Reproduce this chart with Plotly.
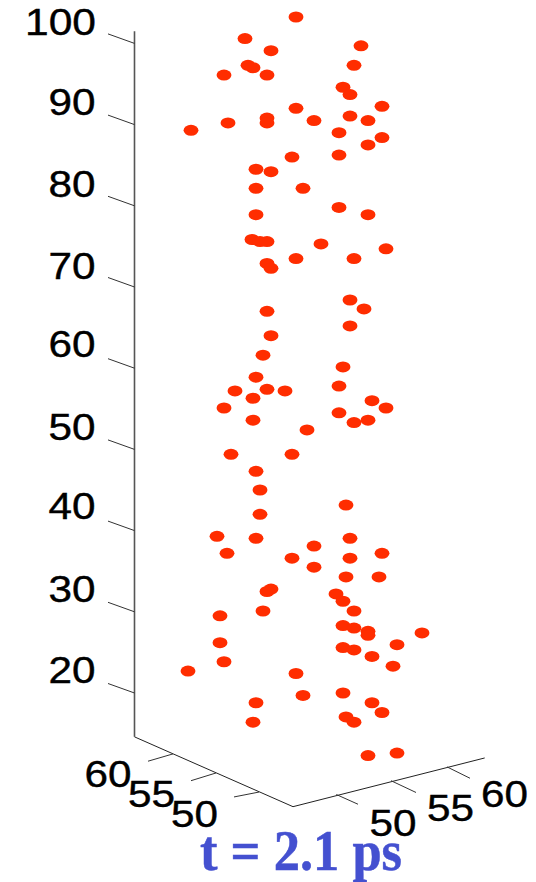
import plotly.graph_objects as go

# Scatter points: projected horizontal position and height (z value)
proj_u = [296,245,361,271,354,248,253,224,267,343,350,382,296,350,267,314,368,267,228,191,339,382,368,339,292,
          256,271,256,303,339,256,368,252,260,267,321,386,296,354,267,271,350,364,267,350,271,263,343,256,339,
          267,285,235,253,372,224,386,339,253,368,354,307,231,292,256,260,346,260,217,256,350,314,227,382,292,350,
          314,346,379,271,267,336,343,354,220,263,343,354,368,422,368,220,397,343,354,372,224,393,188,296,
          343,303,372,382,346,354,253,256,368,397]
z_val = [103.25,100.6,99.7,99.1,97.3,97.3,97.0,96.1,96.1,94.6,93.7,92.25,92.0,91.05,90.8,90.5,90.5,90.2,90.2,89.3,89.0,88.4,87.5,86.25,86.0,
         84.5,84.2,82.15,82.15,79.8,78.9,78.9,75.85,75.6,75.6,75.3,74.7,73.5,73.5,72.9,72.3,68.4,67.3,67.0,65.2,64.0,61.6,60.15,58.9,57.8,
         57.4,57.2,57.2,56.3,56.0,55.1,55.1,54.5,53.6,53.6,53.3,52.4,49.4,49.4,47.3,45.0,43.15,42.0,39.3,39.05,39.05,38.1,37.2,37.2,36.6,36.6,
         35.5,34.3,34.3,32.8,32.5,32.2,31.3,30.1,29.5,30.1,28.3,28.0,27.6,27.4,27.1,26.2,25.95,25.6,25.3,24.5,23.85,23.3,22.7,22.4,
         20.0,19.7,18.8,17.6,17.05,16.4,16.4,18.8,12.3,12.6]

# Axis tick labels
z_ticks = [100, 90, 80, 70, 60, 50, 40, 30, 20]
left_floor_labels = ["60", "55", "50"]
right_floor_labels = ["50", "55", "60"]
title_text = "t = 2.1 ps"

AXIS_U = 134.5
TICK_DU, TICK_DZ = -26.5, 1.17

fig = go.Figure()

# Frame
fig.add_trace(go.Scatter(x=[AXIS_U, AXIS_U], y=[101.5, 14.6], mode="lines", line=dict(color="#555555", width=1.6)))
fig.add_trace(go.Scatter(x=[AXIS_U, 293, 484.7], y=[14.6, 6.0, 12.0], mode="lines", line=dict(color="#222222", width=1)))

# z ticks
tx, ty = [], []
for t in z_ticks:
    tx += [AXIS_U, AXIS_U + TICK_DU, None]
    ty += [t, t + TICK_DZ, None]
# floor ticks
floor_ticks = [
    ((173, 12.5), (148, 11.6)), ((216, 10.15), (191, 9.2)), ((259, 7.8), (234, 7.2)),
    ((336.3, 7.5), (358, 6.3)), ((391, 9.2), (416, 7.75)), ((447, 10.9), (470, 9.5)),
]
for a, b in floor_ticks:
    tx += [a[0], b[0], None]
    ty += [a[1], b[1], None]
fig.add_trace(go.Scatter(x=tx, y=ty, mode="lines", line=dict(color="#333333", width=1)))

# Points
fig.add_trace(go.Scatter(x=proj_u, y=z_val, mode="markers",
                         marker=dict(color="#FF2D00", size=11, line=dict(width=0))))

# Tick labels
label_font = dict(family="Liberation Sans", size=36, color="#000000")
z_label_u = [60.5, 72, 72, 72, 72, 72, 72, 72, 72]
z_label_z = [102.2, 92.25, 82.15, 72.15, 62.45, 52.25, 42.55, 32.35, 22.35]
fig.add_trace(go.Scatter(x=z_label_u, y=z_label_z, mode="text", text=[str(t) for t in z_ticks],
                         textposition="middle center", textfont=label_font))
fig.add_trace(go.Scatter(x=[108, 151.5, 194.5], y=[9.5, 7.05, 4.6], mode="text", text=left_floor_labels,
                         textposition="middle center", textfont=label_font))
fig.add_trace(go.Scatter(x=[393, 450.5, 504.5], y=[3.5, 5.35, 7.05], mode="text", text=right_floor_labels,
                         textposition="middle center", textfont=label_font))

# Title
fig.add_trace(go.Scatter(x=[301], y=[-0.05], mode="text", text=[title_text], textposition="middle center",
                         textfont=dict(family="Liberation Serif", size=56, color="#4450D0", weight="bold")))

fig.update_layout(
    width=536, height=882, margin=dict(l=0, r=0, t=0, b=0),
    paper_bgcolor="white", plot_bgcolor="white", showlegend=False,
    xaxis=dict(range=[0, 536], visible=False),
    yaxis=dict(range=[20 - 189 / 8.12, 20 + 693 / 8.12], visible=False),
)

post = """
document.body.style.margin = '0';
document.querySelectorAll('.scatterlayer .points path').forEach(function (p) {
  p.setAttribute('transform', p.getAttribute('transform') + ' scale(1.35,1)');
});
document.querySelectorAll('.textpoint text').forEach(function (t) {
  var s = t.textContent;
  var w = s.length === 2 ? 47 : (s.length === 3 ? 71 : 202);
  t.setAttribute('textLength', w);
  t.setAttribute('lengthAdjust', 'spacingAndGlyphs');
  if (s.length <= 3) { t.style.stroke = '#000'; t.style.strokeWidth = '0.4px'; }
  else { t.style.stroke = '#4450D0'; t.style.strokeWidth = '0.5px'; }
});
"""
fig.write_html("out.html", post_script=post, config=dict(displayModeBar=False))
